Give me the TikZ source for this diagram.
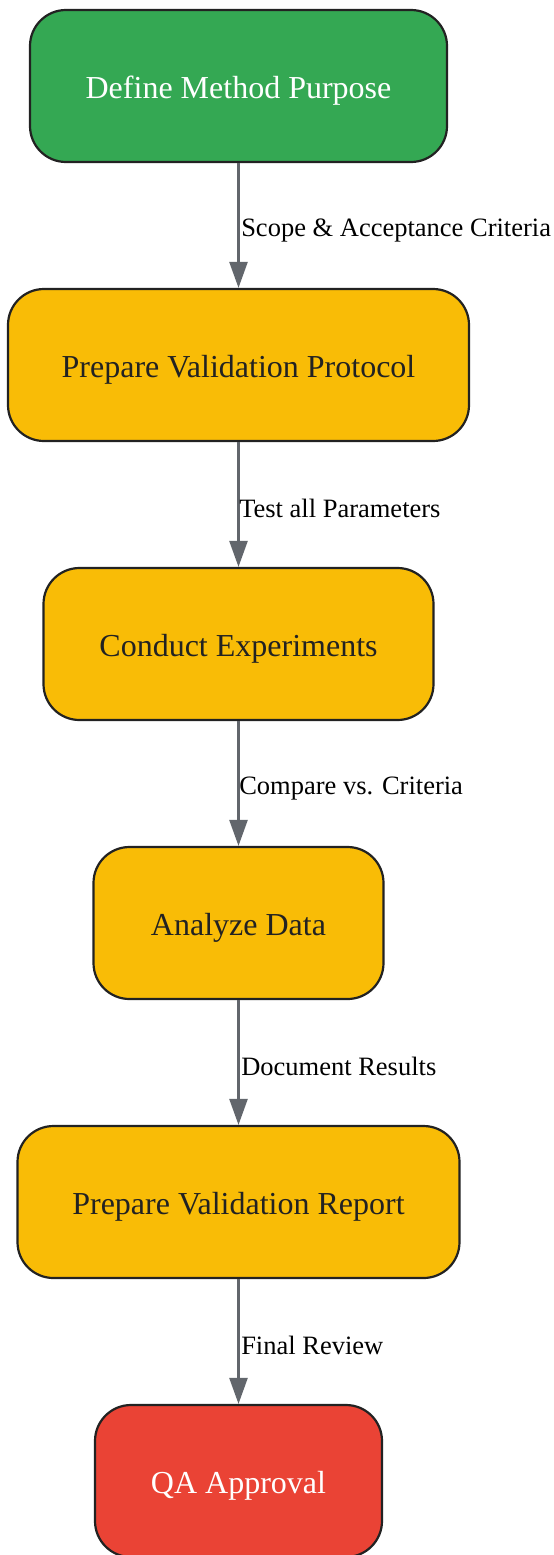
\documentclass[tikz,border=0pt]{standalone}
\usepackage{fontspec}
\setmainfont{Liberation Serif}
\usetikzlibrary{arrows.meta}
\definecolor{gGreen}{HTML}{34A853}
\definecolor{gYellow}{HTML}{F9BC06}
\definecolor{gRed}{HTML}{EA4335}
\definecolor{bordc}{HTML}{222222}
\definecolor{arrc}{HTML}{62666C}
\begin{document}
\begin{tikzpicture}[x=1pt,y=-1pt,
  box/.style={draw=bordc, line width=2.2pt, rounded corners=36pt, minimum height=152pt, inner sep=0pt, text height=25pt, text depth=0pt, font=\fontsize{32}{36}\selectfont, text=bordc},
  green/.style={fill=gGreen, text=white},
  yellow/.style={fill=gYellow},
  red/.style={fill=gRed, text=white},
  conn/.style={draw=arrc, line width=2.5pt, -{Triangle[length=26pt,width=18pt]}},
  lab/.style={anchor=west, inner sep=0pt, font=\fontsize{26.5}{30}\selectfont, text=black}]
\useasboundingbox (0,0) rectangle (554,1555);
\node[box,green,minimum width=417pt] (n1) at (238.5,86) {Define Method Purpose};
\node[box,yellow,minimum width=461pt] (n2) at (238.5,365) {Prepare Validation Protocol};
\node[box,yellow,minimum width=390pt] (n3) at (238.5,644) {Conduct Experiments};
\node[box,yellow,minimum width=290pt] (n4) at (238.5,923) {Analyze Data};
\node[box,yellow,minimum width=442pt] (n5) at (238.5,1202) {Prepare Validation Report};
\node[box,red,minimum width=287pt] (n6) at (238.5,1481) {QA Approval};
\draw[conn] (n1.south) -- node[lab, pos=0.52, xshift=1.5pt, yshift=-3pt] {Scope \& Acceptance Criteria} (n2.north);
\draw[conn] (n2.south) -- node[lab, pos=0.52, xshift=-0.5pt, yshift=-1pt] {Test all Parameters} (n3.north);
\draw[conn] (n3.south) -- node[lab, pos=0.52, xshift=-0.5pt, yshift=-3pt] {Compare vs. Criteria} (n4.north);
\draw[conn] (n4.south) -- node[lab, pos=0.52, xshift=1.5pt, yshift=-1pt] {Document Results} (n5.north);
\draw[conn] (n5.south) -- node[lab, pos=0.52, xshift=1.5pt, yshift=-1pt] {Final Review} (n6.north);
\end{tikzpicture}
\end{document}
